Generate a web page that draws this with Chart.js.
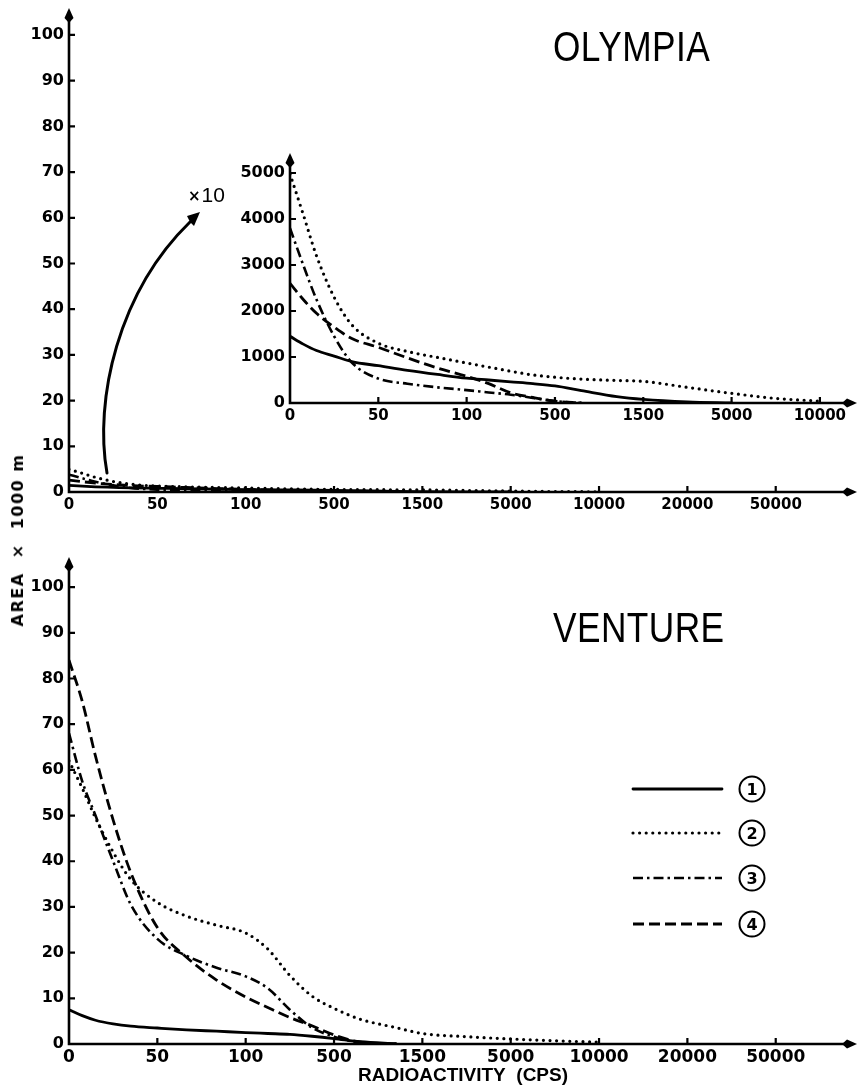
<!DOCTYPE html>
<html>
<head>
<meta charset="utf-8">
<script src="https://cdn.jsdelivr.net/npm/chart.js@4/dist/chart.umd.min.js"></script>
<style>
  html, body { margin: 0; padding: 0; background: #fff; }
  body { position: relative; width: 859px; height: 1090px; overflow: hidden; font-family: "Liberation Sans", "DejaVu Sans", sans-serif; color: #000; }
  canvas { position: absolute; }
  .site { position: absolute; font-size: 42px; line-height: 1; transform: scaleX(0.84); transform-origin: 0 0; letter-spacing: 0.5px; }
  .mag { position: absolute; left: 188px; top: 184px; font-size: 21px; line-height: 1; }
  .mag b { font-family: "DejaVu Sans", sans-serif; font-size: 15px; position: relative; top: -1px; margin-right: 1px; }
  .ytitle { position: absolute; left: 18px; top: 540px; transform: translate(-50%, -50%) rotate(-90deg); font-family: "DejaVu Sans", sans-serif; font-weight: bold; font-size: 16px; white-space: pre; letter-spacing: 1.5px; line-height: 1; }
  .key { position: absolute; width: 23px; height: 23px; border: 2.5px solid #000; border-radius: 50%; transform: translate(-50%, -50%); font-family: "DejaVu Sans", sans-serif; font-weight: bold; font-size: 16px; line-height: 23px; text-align: center; }
</style>
</head>
<body>
<canvas id="olympia" width="859" height="522" style="left:0;top:0"></canvas>
<canvas id="olympiaZoom" width="639" height="290" style="left:220px;top:143px"></canvas>
<canvas id="venture" width="859" height="560" style="left:0;top:530px"></canvas>

<div class="site" style="left:553px;top:26px">OLYMPIA</div>
<div class="site" style="left:553px;top:607px">VENTURE</div>
<div class="mag"><b>×</b>10</div>
<div class="ytitle">AREA  ×  1000 m</div>
<div class="key" style="left:752px;top:789px">1</div>
<div class="key" style="left:752px;top:833px">2</div>
<div class="key" style="left:752px;top:878px">3</div>
<div class="key" style="left:752px;top:924px">4</div>

<script>
// CPS class boundaries shown along the radioactivity axis
const cpsLabels = ['0', '50', '100', '500', '1500', '5000', '10000', '20000', '50000'];
const zoomCpsLabels = ['0', '50', '100', '500', '1500', '5000', '10000'];

// Sample positions along the CPS axis, in tick steps (0 = "0", 1 = "50", ...)
const steps = [0, 0.15, 0.3, 0.5, 0.7, 1, 1.33, 1.67, 2, 2.25, 2.5, 2.75, 3, 3.3, 3.7, 4, 4.5, 5, 5.5, 6];

// Axis tick values
const areaTicks = [0, 10, 20, 30, 40, 50, 60, 70, 80, 90, 100];
const zoomAreaTicks = [0, 1000, 2000, 3000, 4000, 5000];

// Olympia, curves 1-4 (magnified inset units)
const olympia1 = [1450, 1280, 1140, 1020, 900, 810, 710, 620, 540, 500, 460, 420, 370, 270, 140, 80, 25, 0];
const olympia2 = [4980, 4100, 3200, 2300, 1700, 1300, 1120, 990, 870, 780, 690, 610, 560, 520, 490, 470, 340, 210, 100, 40];
const olympia3 = [3800, 3000, 2250, 1450, 880, 530, 420, 340, 280, 230, 180, 110, 40, 0];
const olympia4 = [2600, 2250, 1950, 1650, 1400, 1210, 980, 760, 580, 420, 220, 120, 40, 0];

// Venture, curves 1-4 (area x 1000 m)
const venture1 = [7.5, 6.2, 5.2, 4.4, 3.9, 3.5, 3.1, 2.8, 2.5, 2.3, 2.1, 1.7, 1.2, 0.5, 0.1];
const venture2 = [62, 56, 49.5, 42, 36, 31, 28, 26, 24.3, 20.8, 15, 10.5, 7.8, 5.4, 3.6, 2.3, 1.6, 1.1, 0.7, 0.4];
const venture3 = [68, 57.5, 50, 40, 30.5, 23, 19.3, 16.7, 14.8, 12.2, 7.5, 3.6, 1.6, 0.3, 0];
const venture4 = [84, 75, 63, 49, 37.5, 25.5, 19, 14, 10.3, 8, 5.8, 4, 2, 0.4, 0];

// Line styles for curves 1-4: solid, dotted, dash-dot, dashed
const lineStyles = [
  { borderWidth: 2.8, borderDash: [], borderCapStyle: 'round' },
  { borderWidth: 3.2, borderDash: [0, 6.6], borderCapStyle: 'round' },
  { borderWidth: 2.6, borderDash: [10, 4, 2.5, 4], borderCapStyle: 'butt' },
  { borderWidth: 2.8, borderDash: [11, 5], borderCapStyle: 'butt' }
];

Chart.defaults.font.family = '"DejaVu Sans", sans-serif';
Chart.defaults.color = '#000';
Chart.defaults.animation = false;

const toPoints = (vals, k = 1) => vals.map((v, i) => ({ x: steps[i], y: v * k }));

function makeDatasets(series, k) {
  return series.map((vals, i) => Object.assign({
    data: toPoints(vals, k),
    borderColor: '#000',
    backgroundColor: '#000',
    pointRadius: 0,
    fill: false,
    cubicInterpolationMode: 'monotone',
    borderJoinStyle: 'round'
  }, lineStyles[i]));
}

// Axes drawn as arrows, with short inward tick marks
const arrowAxes = {
  id: 'arrowAxes',
  afterDatasetsDraw(chart) {
    const { ctx, chartArea: a, scales } = chart;
    ctx.save();
    ctx.setLineDash([]);
    ctx.strokeStyle = '#000';
    ctx.fillStyle = '#000';
    ctx.lineWidth = 2.6;
    ctx.lineCap = 'butt';
    ctx.beginPath();
    ctx.moveTo(a.left, a.top + 8);
    ctx.lineTo(a.left, a.bottom);
    ctx.lineTo(a.right - 8, a.bottom);
    ctx.stroke();
    // arrow heads
    ctx.beginPath();
    ctx.moveTo(a.left, a.top);
    ctx.lineTo(a.left - 4.5, a.top + 10);
    ctx.lineTo(a.left, a.top + 15);
    ctx.lineTo(a.left + 4.5, a.top + 10);
    ctx.closePath();
    ctx.fill();
    ctx.beginPath();
    ctx.moveTo(a.right, a.bottom);
    ctx.lineTo(a.right - 10, a.bottom - 4.5);
    ctx.lineTo(a.right - 15, a.bottom);
    ctx.lineTo(a.right - 10, a.bottom + 4.5);
    ctx.closePath();
    ctx.fill();
    // tick marks
    ctx.lineWidth = 2.2;
    ctx.beginPath();
    scales.y.ticks.forEach(t => {
      if (t.value === 0) return;
      const py = scales.y.getPixelForValue(t.value);
      ctx.moveTo(a.left, py);
      ctx.lineTo(a.left + 6, py);
    });
    scales.x.ticks.forEach(t => {
      if (t.value === 0) return;
      const px = scales.x.getPixelForValue(t.value);
      ctx.moveTo(px, a.bottom);
      ctx.lineTo(px, a.bottom - 6);
    });
    ctx.stroke();
    ctx.restore();
  }
};

function scaleOptions(cfg) {
  const zeroPad = s => { s.paddingTop = 0; s.paddingBottom = 0; s.paddingLeft = 0; s.paddingRight = 0; };
  return {
    x: {
      type: 'linear', min: 0, max: cfg.xMax,
      grid: { display: false, drawTicks: false }, border: { display: false },
      afterBuildTicks: s => { s.ticks = cfg.xLabels.map((_, i) => ({ value: i })); },
      afterFit: s => { s.height = cfg.xHeight; zeroPad(s); },
      ticks: {
        autoSkip: false, maxRotation: 0, minRotation: 0, padding: cfg.xPad,
        font: { weight: 'bold', size: cfg.xFont },
        callback: v => cfg.xLabels[v]
      },
      title: cfg.xTitle ? {
        display: true, text: cfg.xTitle,
        font: { family: '"Liberation Sans", sans-serif', weight: 'bold', size: 19 },
        padding: { top: 0, bottom: 3 }
      } : { display: false }
    },
    y: {
      type: 'linear', min: 0, max: cfg.yMax,
      grid: { display: false, drawTicks: false }, border: { display: false },
      afterBuildTicks: s => { s.ticks = cfg.yTicks.map(v => ({ value: v })); },
      afterFit: s => { s.width = cfg.yWidth; zeroPad(s); },
      ticks: { padding: 5, font: { weight: 'bold', size: 16 }, callback: v => String(v) }
    }
  };
}

function makeChart(id, datasets, cfg, extraPlugins = []) {
  return new Chart(document.getElementById(id), {
    type: 'line',
    data: { datasets },
    options: {
      responsive: false,
      events: [],
      layout: { padding: cfg.padding },
      plugins: { legend: { display: false }, tooltip: { enabled: false }, title: { display: false } },
      scales: scaleOptions(cfg)
    },
    plugins: [arrowAxes, ...extraPlugins]
  });
}

// Curved "x10" pointer from the compressed curves to the inset
const magnifyPointer = {
  id: 'magnifyPointer',
  afterDraw(chart) {
    const ctx = chart.ctx;
    ctx.save();
    ctx.setLineDash([]);
    ctx.strokeStyle = '#000';
    ctx.fillStyle = '#000';
    ctx.lineWidth = 3;
    ctx.lineCap = 'round';
    ctx.beginPath();
    ctx.moveTo(107, 473);
    ctx.bezierCurveTo(94, 400, 118, 292, 190, 222);
    ctx.stroke();
    ctx.beginPath();
    ctx.moveTo(200, 212);
    ctx.lineTo(187, 216);
    ctx.lineTo(190, 222);
    ctx.lineTo(194, 226);
    ctx.closePath();
    ctx.fill();
    ctx.restore();
  }
};

// Line-style key for curves 1-4
const keyRows = [789, 833, 878, 924];
const styleKey = {
  id: 'styleKey',
  afterDraw(chart) {
    const ctx = chart.ctx;
    const top = chart.canvas.offsetTop;
    chart.data.datasets.forEach((ds, i) => {
      ctx.save();
      ctx.strokeStyle = ds.borderColor;
      ctx.lineWidth = ds.borderWidth;
      ctx.setLineDash(ds.borderDash);
      ctx.lineCap = ds.borderCapStyle;
      ctx.beginPath();
      ctx.moveTo(633, keyRows[i] - top);
      ctx.lineTo(722, keyRows[i] - top);
      ctx.stroke();
      ctx.restore();
    });
  }
};

makeChart('olympia', makeDatasets([olympia1, olympia2, olympia3, olympia4], 1 / 1000), {
  xLabels: cpsLabels, xMax: 8.92, xHeight: 30, xPad: 4, xFont: 15,
  yTicks: areaTicks, yMax: 105.9, yWidth: 69,
  padding: { top: 8, right: 2, left: 0, bottom: 0 }
}, [magnifyPointer]);

makeChart('olympiaZoom', makeDatasets([olympia1, olympia2, olympia3, olympia4], 1), {
  xLabels: zoomCpsLabels, xMax: 6.42, xHeight: 30, xPad: 4, xFont: 15,
  yTicks: zoomAreaTicks, yMax: 5435, yWidth: 70,
  padding: { top: 10, right: 2, left: 0, bottom: 0 }
});

makeChart('venture', makeDatasets([venture1, venture2, venture3, venture4], 1), {
  xLabels: cpsLabels, xMax: 8.92, xHeight: 46, xPad: 3, xFont: 17,
  xTitle: 'RADIOACTIVITY  (CPS)',
  yTicks: areaTicks, yMax: 106.6, yWidth: 69,
  padding: { top: 27, right: 2, left: 0, bottom: 0 }
}, [styleKey]);
</script>
</body>
</html>
